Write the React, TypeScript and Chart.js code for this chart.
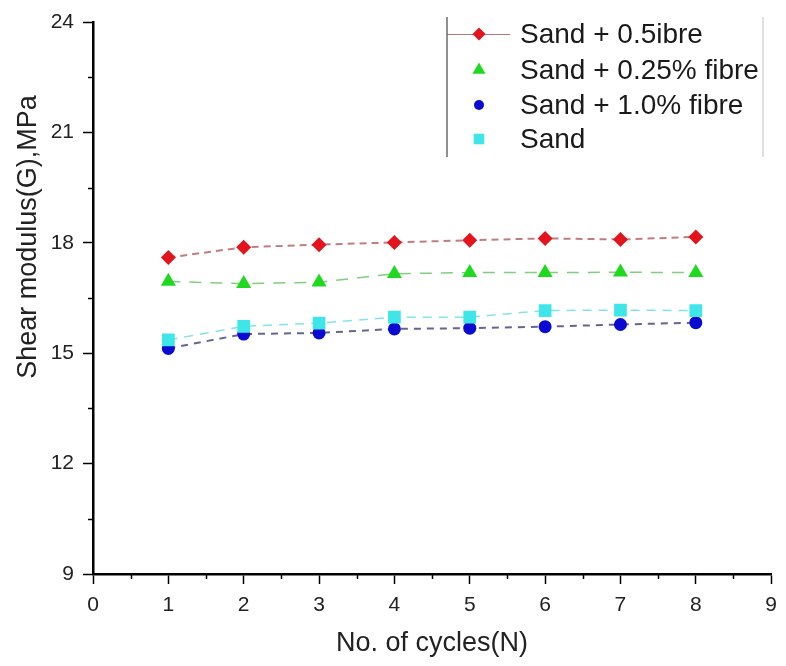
import React, { useEffect, useRef } from 'react';
import { Chart, registerables } from 'chart.js';

Chart.register(...registerables);

const cycles = [1, 2, 3, 4, 5, 6, 7, 8];
const seriesLabels = ['Sand + 0.5ibre', 'Sand + 0.25% fibre', 'Sand + 1.0% fibre', 'Sand'];
const sandHalfFibre = [17.6, 17.88, 17.95, 18.01, 18.07, 18.12, 18.09, 18.16];
const sandQuarterFibre = [16.95, 16.89, 16.93, 17.16, 17.19, 17.19, 17.2, 17.19];
const sandOneFibre = [15.13, 15.52, 15.55, 15.66, 15.68, 15.72, 15.78, 15.83];
const sandOnly = [15.36, 15.73, 15.82, 15.98, 15.98, 16.16, 16.17, 16.16];
const xTickValues = [0, 1, 2, 3, 4, 5, 6, 7, 8, 9];
const yTickValues = [9, 12, 15, 18, 21, 24];
const xTitle = 'No. of cycles(N)';
const yTitle = 'Shear modulus(G),MPa';

const FONT = "'Liberation Sans', Arial, Helvetica, sans-serif";

const toPoints = (ys: number[]) => cycles.map((c, i) => ({ x: c, y: ys[i] }));

function drawMarker(ctx: CanvasRenderingContext2D, style: string, x: number, y: number, r: number, color: string) {
  ctx.save();
  ctx.fillStyle = color;
  ctx.beginPath();
  if (style === 'rectRot') {
    ctx.moveTo(x, y - r);
    ctx.lineTo(x + r, y);
    ctx.lineTo(x, y + r);
    ctx.lineTo(x - r, y);
    ctx.closePath();
  } else if (style === 'triangle') {
    ctx.moveTo(x, y - r);
    ctx.lineTo(x + r * 0.866, y + r * 0.5);
    ctx.lineTo(x - r * 0.866, y + r * 0.5);
    ctx.closePath();
  } else if (style === 'circle') {
    ctx.arc(x, y, r, 0, Math.PI * 2);
  } else {
    const s = r * Math.SQRT1_2;
    ctx.rect(x - s, y - s, 2 * s, 2 * s);
  }
  ctx.fill();
  ctx.restore();
}

const extrasPlugin = {
  id: 'extras',
  afterDraw(chart: any) {
    const ctx: CanvasRenderingContext2D = chart.ctx;
    const xs = chart.scales.x;
    const ys = chart.scales.y;
    const area = chart.chartArea;
    ctx.save();
    ctx.strokeStyle = '#000';
    ctx.lineWidth = 1.5;
    // minor ticks
    for (let i = 0; i < xTickValues.length - 1; i++) {
      const v = (xTickValues[i] + xTickValues[i + 1]) / 2;
      const px = Math.round(xs.getPixelForValue(v)) + 0.5;
      ctx.beginPath();
      ctx.moveTo(px, area.bottom);
      ctx.lineTo(px, area.bottom + 5);
      ctx.stroke();
    }
    for (let i = 0; i < yTickValues.length - 1; i++) {
      const v = (yTickValues[i] + yTickValues[i + 1]) / 2;
      const py = Math.round(ys.getPixelForValue(v)) + 0.5;
      ctx.beginPath();
      ctx.moveTo(area.left, py);
      ctx.lineTo(area.left - 5, py);
      ctx.stroke();
    }
    // y-axis title
    ctx.save();
    ctx.translate(29, 237);
    ctx.rotate(-Math.PI / 2);
    ctx.fillStyle = '#222';
    ctx.font = `27px ${FONT}`;
    ctx.textAlign = 'center';
    ctx.textBaseline = 'middle';
    ctx.fillText(yTitle, 0, 0);
    ctx.restore();
    // legend
    const lx = 447;
    const top = 17;
    const bottom = 157;
    ctx.lineWidth = 1.5;
    ctx.strokeStyle = '#6a6a6a';
    ctx.beginPath();
    ctx.moveTo(lx, top);
    ctx.lineTo(lx, bottom);
    ctx.stroke();
    ctx.strokeStyle = '#d6d6d6';
    ctx.beginPath();
    ctx.moveTo(763, top);
    ctx.lineTo(763, bottom);
    ctx.stroke();
    const rowsY = [34, 70, 105, 139];
    const legendR = [6.5, 7.5, 5, 7.5];
    chart.data.datasets.forEach((ds: any, i: number) => {
      const y = rowsY[i];
      if (i === 0) {
        ctx.strokeStyle = 'rgba(150,90,90,0.8)';
        ctx.lineWidth = 1;
        ctx.beginPath();
        ctx.moveTo(lx, y + 0.5);
        ctx.lineTo(510, y + 0.5);
        ctx.stroke();
      }
      drawMarker(ctx, ds.pointStyle, 479, y, legendR[i], ds.pointBackgroundColor);
      ctx.fillStyle = '#1a1a1a';
      ctx.font = `28px ${FONT}`;
      ctx.textBaseline = 'middle';
      ctx.textAlign = 'left';
      ctx.fillText(ds.label, 520, y + 1);
    });
    ctx.restore();
  },
};

export default function App() {
  const canvasRef = useRef<HTMLCanvasElement | null>(null);

  useEffect(() => {
    document.body.style.margin = '0';
    const canvas = canvasRef.current;
    if (!canvas) return;
    const chart = new Chart(canvas, {
      type: 'line',
      data: {
        datasets: [
          {
            label: seriesLabels[0],
            data: toPoints(sandHalfFibre),
            borderColor: 'rgba(165,70,75,0.7)',
            borderWidth: 2,
            borderDash: [7, 5],
            pointStyle: 'rectRot',
            pointRadius: 7.5,
            pointBackgroundColor: '#e3141c',
            pointBorderColor: '#e3141c',
            pointBorderWidth: 0,
            order: 3,
          },
          {
            label: seriesLabels[1],
            data: toPoints(sandQuarterFibre),
            borderColor: 'rgba(60,180,60,0.65)',
            borderWidth: 1.5,
            borderDash: [12, 9],
            pointStyle: 'triangle',
            pointRadius: 8.7,
            pointBackgroundColor: '#1fd91f',
            pointBorderColor: '#1fd91f',
            pointBorderWidth: 0,
            order: 2,
          },
          {
            label: seriesLabels[2],
            data: toPoints(sandOneFibre),
            borderColor: 'rgba(50,50,110,0.75)',
            borderWidth: 2,
            borderDash: [7, 6],
            pointStyle: 'circle',
            pointRadius: 6.5,
            pointBackgroundColor: '#0a0ad2',
            pointBorderColor: '#0a0ad2',
            pointBorderWidth: 0,
            order: 1,
          },
          {
            label: seriesLabels[3],
            data: toPoints(sandOnly),
            borderColor: 'rgba(80,215,225,0.7)',
            borderWidth: 1.5,
            borderDash: [9, 7],
            pointStyle: 'rect',
            pointRadius: 9,
            pointBackgroundColor: '#3ee6ea',
            pointBorderColor: '#3ee6ea',
            pointBorderWidth: 0,
            order: 0,
          },
        ],
      },
      options: {
        animation: false,
        responsive: false,
        maintainAspectRatio: false,
        layout: { padding: { left: 0, right: 8, top: 22, bottom: 0 } },
        plugins: {
          legend: { display: false },
          tooltip: { enabled: false },
        },
        scales: {
          x: {
            type: 'linear',
            min: 0,
            max: 9,
            afterFit: (scale: any) => {
              scale.height = 92;
            },
            afterBuildTicks: (scale: any) => {
              scale.ticks = xTickValues.map((v) => ({ value: v }));
            },
            border: { display: true, color: '#000', width: 2.5 },
            grid: {
              display: true,
              drawOnChartArea: false,
              drawTicks: true,
              tickLength: 10,
              tickColor: '#000',
              tickWidth: 1.5,
              color: '#000',
            },
            ticks: {
              color: '#222',
              font: { family: FONT, size: 21 },
              padding: 9,
              maxRotation: 0,
              autoSkip: false,
            },
            title: {
              display: true,
              text: xTitle,
              color: '#222',
              font: { family: FONT, size: 27 },
              padding: { top: 0, bottom: 6 },
            },
          },
          y: {
            type: 'linear',
            min: 9,
            max: 24,
            afterFit: (scale: any) => {
              scale.width = 93;
            },
            afterBuildTicks: (scale: any) => {
              scale.ticks = yTickValues.map((v) => ({ value: v }));
            },
            border: { display: true, color: '#000', width: 2.5 },
            grid: {
              display: true,
              drawOnChartArea: false,
              drawTicks: true,
              tickLength: 10,
              tickColor: '#000',
              tickWidth: 1.5,
              color: '#000',
            },
            ticks: {
              color: '#222',
              font: { family: FONT, size: 21 },
              padding: 9,
              autoSkip: false,
            },
            title: { display: false },
          },
        },
      } as any,
      plugins: [extrasPlugin],
    });
    return () => {
      chart.destroy();
    };
  }, []);

  return (
    <div style={{ width: 786, height: 666 }}>
      <canvas ref={canvasRef} width={786} height={666} style={{ display: 'block', width: 786, height: 666 }} />
    </div>
  );
}
